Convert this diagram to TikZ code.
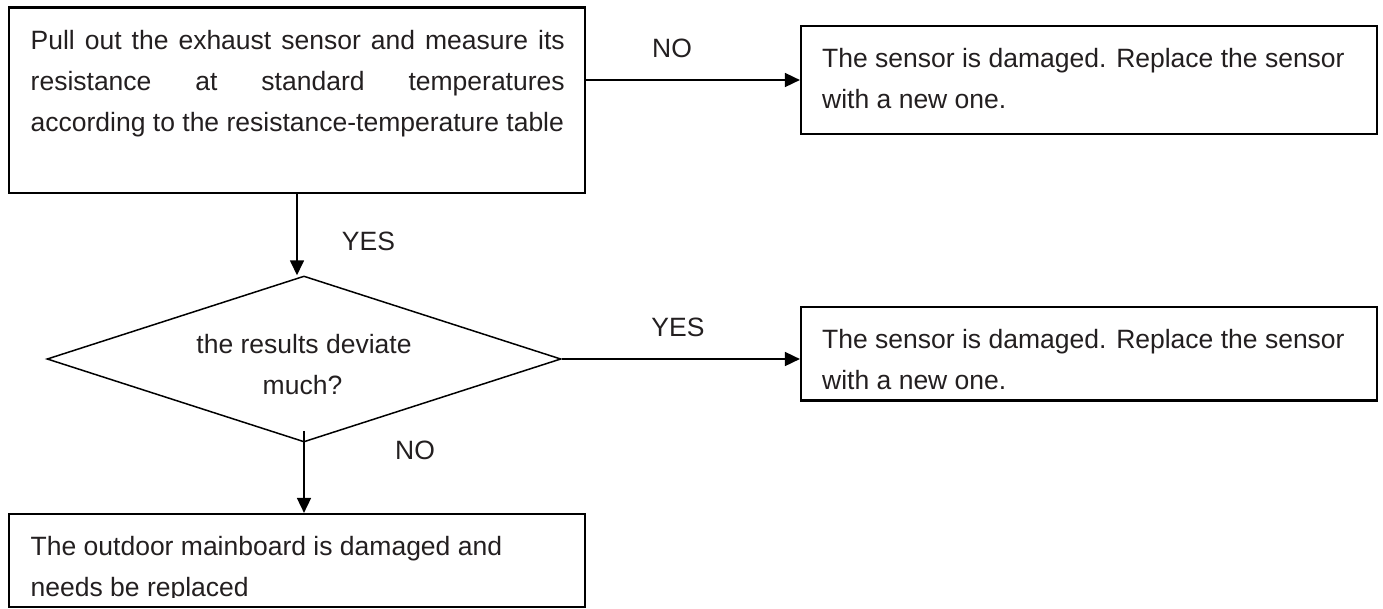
\documentclass[tikz,border=0pt]{standalone}
\usepackage{fontspec}
\setmainfont{Liberation Sans}
\usetikzlibrary{arrows.meta,shapes.geometric}
\definecolor{ink}{HTML}{231F20}
\tikzset{
  boxshape/.style={draw=black, line width=2.2pt, rectangle, inner sep=0pt},
  txt/.style={anchor=base west, inner sep=0pt, text=ink, font=\fontsize{26.5}{41}\selectfont},
  ctxt/.style={anchor=base, inner sep=0pt, text=ink, font=\fontsize{26.5}{41}\selectfont},
  conn/.style={draw=black, line width=1.7pt, -{Triangle[length=15pt,width=14pt]}},
}
\begin{document}
\begin{tikzpicture}[x=1pt,y=-1pt]
\useasboundingbox (0,0) rectangle (1383,608);
% boxes
\node[boxshape, minimum width=576pt, minimum height=185.5pt] (b1) at (297,100.25) {};
\node[boxshape, minimum width=576pt, minimum height=108pt] (bno) at (1089,80) {};
\node[boxshape, minimum width=576pt, minimum height=93.5pt] (byes) at (1089,353.75) {};
\node[boxshape, minimum width=576pt, minimum height=93pt] (b4) at (297,560.5) {};
\node[draw=black, line width=1.5pt, diamond, inner sep=0pt, minimum width=514pt, minimum height=166pt] (dia) at (304,359) {};
% texts
\node[txt] (t1a) at (30.5,49) {\makebox[534pt][s]{Pull out the exhaust sensor and measure its}};
\node[txt] (t1b) at (30.5,90) {\makebox[534pt][s]{resistance at standard temperatures}};
\node[txt] (t1c) at (30.5,131) {according to the resistance-temperature table};
\node[txt] (tna) at (822,67) {The sensor is damaged. Replace the sensor};
\node[txt] (tnb) at (822,108) {with a new one.};
\node[txt] (tya) at (822,348) {The sensor is damaged. Replace the sensor};
\node[txt] (tyb) at (822,389) {with a new one.};
\node[ctxt] (tda) at (304,353) {the results deviate};
\node[ctxt] (tdb) at (302.5,394) {much?};
\node[txt] (t4a) at (30.5,555) {The outdoor mainboard is damaged and};
\begin{scope}
\clip (0,500) rectangle (1383,597.5);
\node[txt] (t4b) at (30.5,596) {needs be replaced};
\end{scope}
% labels
\node[ctxt] (lno1) at (672,57) {NO};
\node[ctxt] (lyes1) at (368.5,250.7) {YES};
\node[ctxt] (lyes2) at (678,336.7) {YES};
\node[ctxt] (lno2) at (415,459.3) {NO};
% connectors
\draw[conn] (bno.west -| b1.east) -- (bno.west);
\draw[conn] (b1.south) -- (b1.south |- dia.north);
\draw[conn] (dia.east) -- (dia.east -| byes.west);
\draw[conn] ([yshift=12pt]dia.south) -- (dia.south |- b4.north);
\end{tikzpicture}
\end{document}
